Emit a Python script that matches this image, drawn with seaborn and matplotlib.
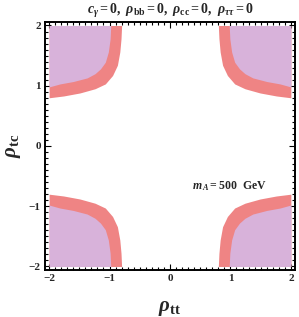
import matplotlib
matplotlib.use("Agg")
import matplotlib.pyplot as plt
from matplotlib.ticker import MultipleLocator
import seaborn as sns

# Quadrant-I boundaries (mirrored to the other quadrants)
purple_y = [2.0, 1.78, 1.56, 1.39, 1.28, 1.20, 1.13, 1.07, 1.03, 0.98]
purple_x = [0.98, 0.99, 1.02, 1.07, 1.15, 1.24, 1.37, 1.60, 1.82, 2.0]
red_y = [2.0, 1.78, 1.56, 1.34, 1.17, 1.03, 0.95, 0.88, 0.83, 0.80]
red_x = [0.80, 0.81, 0.83, 0.87, 0.95, 1.07, 1.24, 1.49, 1.76, 2.0]
quadrants = [(1, 1), (-1, 1), (1, -1), (-1, -1)]
ticks = [-2, -1, 0, 1, 2]
tick_labels = ["\u22122", "\u22121", "0", "1", "2"]

sns.set_style("ticks")
plt.rcParams.update({
    "font.family": ["Liberation Serif", "DejaVu Serif"],
    "font.weight": "bold",
    "mathtext.fontset": "custom",
    "mathtext.rm": "Liberation Serif:bold",
    "mathtext.it": "Liberation Serif:italic:bold",
    "mathtext.bf": "Liberation Serif:bold",
})

fig = plt.figure(figsize=(2.99, 3.17), dpi=100)
ax = fig.add_axes([0.150, 0.148, 0.837, 0.783])

RED = "#ef8484"
PURPLE = "#d8b2da"
for sx, sy in quadrants:
    ax.fill_betweenx([sy * v for v in red_y], [sx * v for v in red_x], sx * 2.0,
                     color=RED, lw=0)
    ax.fill_betweenx([sy * v for v in purple_y], [sx * v for v in purple_x], sx * 2.0,
                     color=PURPLE, lw=0)

ax.set_xlim(-2.07, 2.07)
ax.set_ylim(-2.06, 2.06)
ax.set_xticks(ticks)
ax.set_yticks(ticks)
ax.set_xticklabels(tick_labels, fontsize=8, fontweight="bold")
ax.set_yticklabels(tick_labels, fontsize=8, fontweight="bold")
ax.xaxis.set_minor_locator(MultipleLocator(0.1))
ax.yaxis.set_minor_locator(MultipleLocator(0.1))
ax.tick_params(which="both", direction="in", top=True, right=True, width=0.8, color="black")
ax.tick_params(which="major", length=4, pad=3)
ax.tick_params(which="minor", length=2)
for s in ax.spines.values():
    s.set_linewidth(1.4)
    s.set_color("black")

ax.set_title(r"$c_\gamma = 0,\ \rho_{\mathrm{bb}} = 0,\ \rho_{\mathrm{cc}} = 0,\ \rho_{\tau\tau} = 0$",
             fontsize=10, pad=6)
ax.set_xlabel(r"$\rho_{\mathrm{tt}}$", fontsize=15, labelpad=11)
ax.set_ylabel(r"$\rho_{\mathrm{tc}}$", fontsize=15, labelpad=4)
ax.text(0.36, -0.72, r"$m_{\,A} = 500\ \ \mathrm{GeV}$", fontsize=8.5)

fig.savefig("out.png", dpi=100)
